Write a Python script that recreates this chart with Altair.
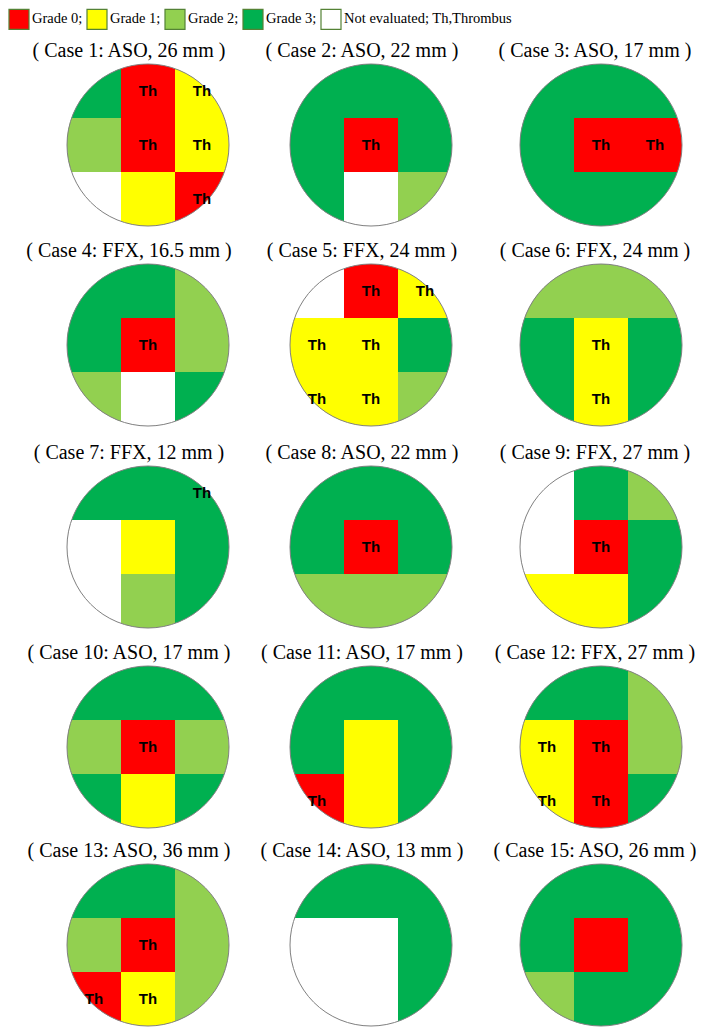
import altair as alt
import pandas as pd

CASE_TITLES = [
    "( Case 1: ASO, 26 mm )", "( Case 2: ASO, 22 mm )", "( Case 3: ASO, 17 mm )",
    "( Case 4: FFX, 16.5 mm )", "( Case 5: FFX, 24 mm )", "( Case 6: FFX, 24 mm )",
    "( Case 7: FFX, 12 mm )", "( Case 8: ASO, 22 mm )", "( Case 9: FFX, 27 mm )",
    "( Case 10: ASO, 17 mm )", "( Case 11: ASO, 17 mm )", "( Case 12: FFX, 27 mm )",
    "( Case 13: ASO, 36 mm )", "( Case 14: ASO, 13 mm )", "( Case 15: ASO, 26 mm )",
]

GRADE_NAMES = ["Grade 0;", "Grade 1;", "Grade 2;", "Grade 3;", "Not evaluated; Th,Thrombus"]
GRADE_COLORS = ["#FF0000", "#FFFF00", "#92D050", "#00B050", "#FFFFFF"]
CODE = {"R": 0, "Y": 1, "L": 2, "G": 3, "W": 4}

# 3x3 grid per case, rows top->bottom
# R=grade 0, Y=grade 1, L=grade 2, G=grade 3, W=not evaluated
CASE_CELLS = [
    "GRY LRY WYR", "GGG GRG GWL", "GGG GRR GGG",
    "GGL GRL LWG", "WRY YYG YYL", "LLL GYG GYG",
    "GGG WYG WLG", "GGG GRG LLL", "WGL WRG YYG",
    "GGG LRL GYG", "GGG GYG RYG", "GGL YRL YRG",
    "GGL LRL RYL", "GGG WWG WWG", "GGG GRG LGG",
]
# thrombus (Th) markers per cell
CASE_TH = [
    "011 011 001", "000 010 000", "000 011 000",
    "000 010 000", "011 110 110", "000 010 010",
    "001 000 000", "000 010 000", "000 010 000",
    "000 010 000", "000 000 100", "000 110 110",
    "000 010 110", "000 000 000", "000 000 000",
]

# ---- layout (chart pixel units, not data) ----
W, H = 693, 1020
D = 162                      # circle diameter
CELL = D / 3
PANEL_LEFT = [59, 282, 512]  # left edge of each column of circles
PANEL_TOP = [56, 256, 458, 658, 856]
TITLE_X = [121, 354, 587]
TITLE_GAP = 13

cell_rows, panel_rows = [], []
for i, (title, cells, th) in enumerate(zip(CASE_TITLES, CASE_CELLS, CASE_TH)):
    pr, pc = divmod(i, 3)
    left, top = PANEL_LEFT[pc], PANEL_TOP[pr]
    cells = cells.replace(" ", "")
    th = th.replace(" ", "")
    for k in range(9):
        r, c = divmod(k, 3)
        cell_rows.append({
            "case": title,
            "x0": left + c * CELL, "x1": left + (c + 1) * CELL,
            "y0": top + r * CELL, "y1": top + (r + 1) * CELL,
            "cx": left + (c + 0.5) * CELL, "cy": top + (r + 0.5) * CELL,
            "grade": GRADE_NAMES[CODE[cells[k]]],
            "th": "Th" if th[k] == "1" else "",
        })
    panel_rows.append({
        "case": title,
        "mx": left + D / 2, "my": top + D / 2,
        "tx": TITLE_X[pc], "ty": top - TITLE_GAP,
    })
cells_df = pd.DataFrame(cell_rows)
panels_df = pd.DataFrame(panel_rows)

xs = alt.Scale(domain=[0, W], range=[0, W], nice=False, zero=False)
ys = alt.Scale(domain=[0, H], nice=False, zero=False, reverse=True)

rect = alt.Chart(cells_df).mark_rect().encode(
    x=alt.X("x0:Q", scale=xs, axis=None),
    x2="x1:Q",
    y=alt.Y("y0:Q", scale=ys, axis=None),
    y2="y1:Q",
    color=alt.Color(
        "grade:N",
        scale=alt.Scale(domain=GRADE_NAMES, range=GRADE_COLORS),
        legend=alt.Legend(
            title=None, orient="none", legendX=0, legendY=0,
            direction="horizontal", columns=5,
            symbolType="square", symbolSize=400,
            symbolStrokeColor="#548235", symbolStrokeWidth=1.2,
            labelFont="Liberation Serif", labelFontSize=14.5, labelColor="black",
            labelOffset=2, columnPadding=1, padding=0, labelLimit=400,
            symbolOpacity=1,
        ),
    ),
)

# white mask: square with a circular hole, clips the grid to a disc
MASK_PATH = ("M-1.03,-1.03H1.03V1.03H-1.03Z"
             "M1,0A1,1,0,0,0,-1,0A1,1,0,0,0,1,0Z")
mask = alt.Chart(panels_df).mark_point(
    shape=MASK_PATH, filled=True, color="white", opacity=1,
    strokeWidth=0, size=D * D,
).encode(
    x=alt.X("mx:Q", scale=xs, axis=None),
    y=alt.Y("my:Q", scale=ys, axis=None),
)

outline = alt.Chart(panels_df).mark_point(
    shape="circle", filled=False, color="#808080", opacity=1,
    strokeWidth=1, size=D * D,
).encode(
    x=alt.X("mx:Q", scale=xs, axis=None),
    y=alt.Y("my:Q", scale=ys, axis=None),
)

th_text = alt.Chart(cells_df).mark_text(
    font="Liberation Sans", fontWeight="bold", fontSize=15, color="black",
    align="center", baseline="middle",
).encode(
    x=alt.X("cx:Q", scale=xs, axis=None),
    y=alt.Y("cy:Q", scale=ys, axis=None),
    text="th:N",
).transform_filter("datum.th != ''")

titles = alt.Chart(panels_df).mark_text(
    font="Liberation Serif", fontSize=20, color="black",
    align="center", baseline="middle",
).encode(
    x=alt.X("tx:Q", scale=xs, axis=None),
    y=alt.Y("ty:Q", scale=ys, axis=None),
    text="case:N",
)

chart = alt.layer(rect, mask, outline, th_text, titles).properties(
    width=W, height=H, padding=0, background="white"
).configure_view(stroke=None)

chart.save("out.html", embed_options={"renderer": "svg", "actions": False})
